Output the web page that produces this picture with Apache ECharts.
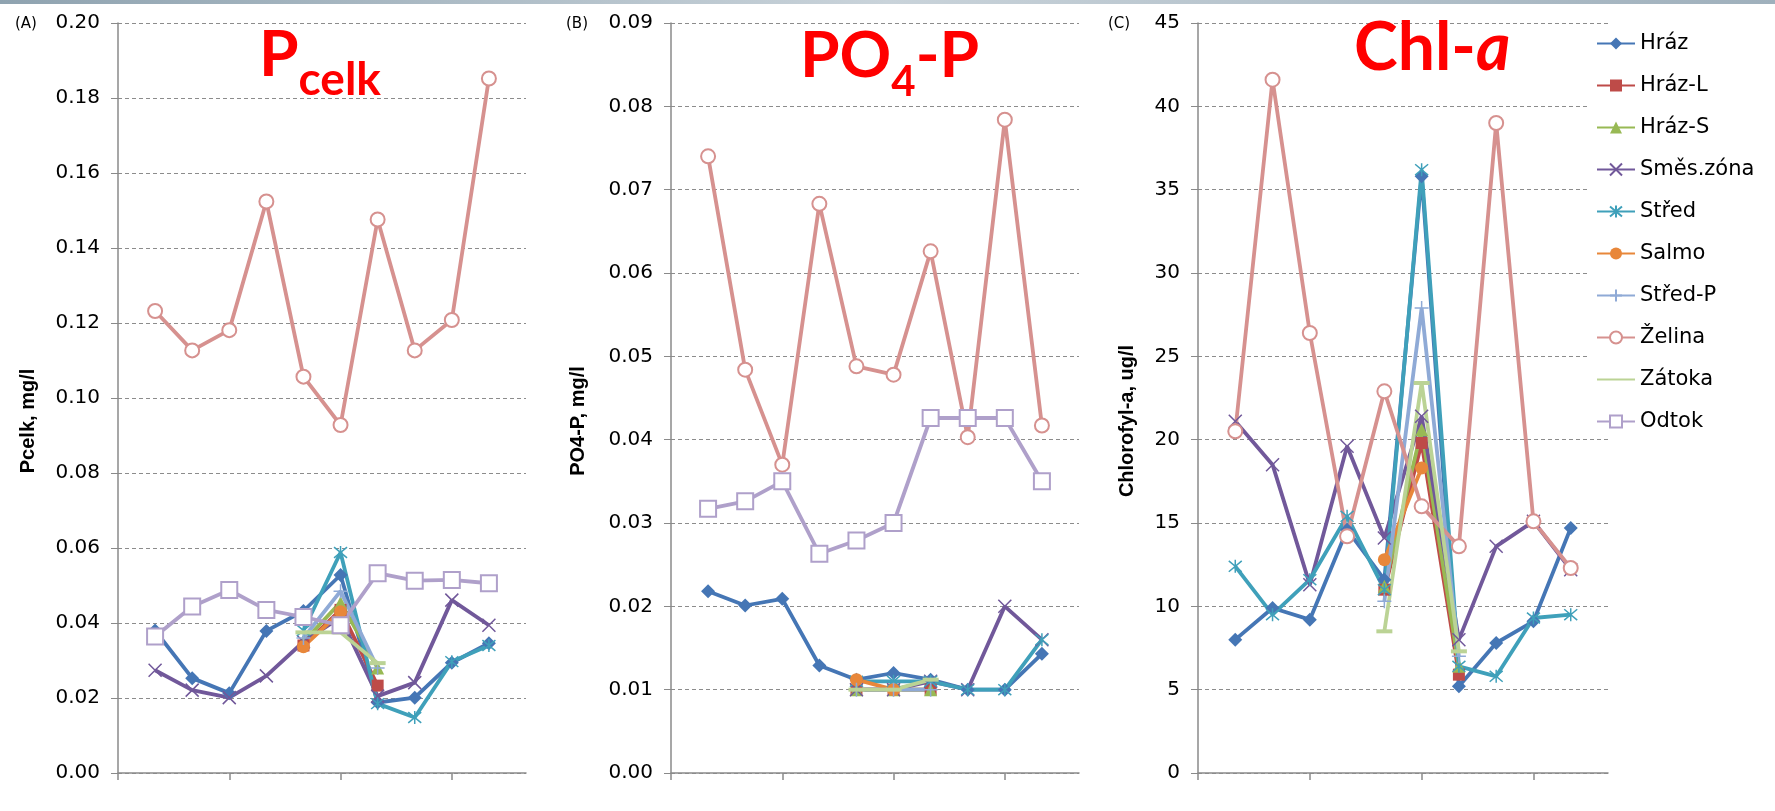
<!DOCTYPE html>
<html>
<head>
<meta charset="utf-8">
<title>Pcelk, PO4-P, Chl-a</title>
<script src="https://cdn.jsdelivr.net/npm/echarts@6.0.0/dist/echarts.min.js"></script>
<style>
html, body { margin: 0; padding: 0; background: #fff; }
#chart { width: 1775px; height: 811px; }
</style>
</head>
<body>
<div id="chart"></div>
<script>
// 12 slots on the x axis, samples sit in slots 1..10
var slots = ['', '', '', '', '', '', '', '', '', '', '', ''];
var seriesNames = ['Hráz', 'Hráz-L', 'Hráz-S', 'Směs.zóna', 'Střed', 'Salmo', 'Střed-P', 'Želina', 'Zátoka', 'Odtok'];

// (A) Pcelk, mg/l
var pHraz   = [0.0380, 0.0253, 0.0213, 0.0379, 0.0432, 0.0528, 0.0188, 0.0201, 0.0294, 0.0346];
var pHrazL  = [null, null, null, null, 0.0340, 0.0435, 0.0233, null, null, null];
var pHrazS  = [null, null, null, null, 0.0350, 0.0455, 0.0280, null, null, null];
var pSmes   = [0.0274, 0.0221, 0.0201, 0.0259, 0.0350, 0.0415, 0.0205, 0.0241, 0.0461, 0.0394];
var pStred  = [null, null, null, null, 0.0380, 0.0588, 0.0185, 0.0148, 0.0297, 0.0340];
var pSalmo  = [null, null, null, null, 0.0337, 0.0430, null, null, null, null];
var pStredP = [null, null, null, null, 0.0360, 0.0485, 0.0280, null, null, null];
var pZelina = [0.1232, 0.1127, 0.1181, 0.1524, 0.1057, 0.0928, 0.1476, 0.1127, 0.1208, 0.1852];
var pZatoka = [null, null, null, null, 0.0375, 0.0375, 0.0293, null, null, null];
var pOdtok  = [0.0364, 0.0444, 0.0488, 0.0435, 0.0416, 0.0394, 0.0533, 0.0513, 0.0515, 0.0506];

// (B) PO4-P, mg/l
var poHraz   = [0.0218, 0.0201, 0.0209, 0.0129, 0.0112, 0.0120, 0.0112, 0.0100, 0.0100, 0.0143];
var poHrazL  = [null, null, null, null, 0.0100, 0.0100, 0.0100, null, null, null];
var poHrazS  = [null, null, null, null, 0.0100, 0.0100, 0.0100, null, null, null];
var poSmes   = [null, null, null, null, 0.0100, 0.0100, 0.0110, 0.0100, 0.0200, 0.0160];
var poStred  = [null, null, null, null, 0.0110, 0.0110, 0.0110, 0.0100, 0.0100, 0.0160];
var poSalmo  = [null, null, null, null, 0.0112, 0.0100, null, null, null, null];
var poStredP = [null, null, null, null, 0.0100, 0.0100, 0.0100, null, null, null];
var poZelina = [0.0740, 0.0484, 0.0370, 0.0683, 0.0488, 0.0478, 0.0626, 0.0403, 0.0784, 0.0417];
var poZatoka = [null, null, null, null, 0.0100, 0.0100, 0.0112, null, null, null];
var poOdtok  = [0.0317, 0.0326, 0.0350, 0.0263, 0.0279, 0.0300, 0.0426, 0.0426, 0.0426, 0.0350];

// (C) Chlorofyl-a, ug/l
var chHraz   = [8.0, 9.9, 9.2, 14.6, 11.6, 35.8, 5.2, 7.8, 9.1, 14.7];
var chHrazL  = [null, null, null, null, 11.0, 19.8, 5.9, null, null, null];
var chHrazS  = [null, null, null, null, 11.2, 20.6, 6.4, null, null, null];
var chSmes   = [21.1, 18.5, 11.3, 19.6, 14.1, 21.4, 8.0, 13.6, 15.1, 12.2];
var chStred  = [12.4, 9.5, 11.6, 15.4, 11.0, 36.2, 6.4, 5.8, 9.3, 9.5];
var chSalmo  = [null, null, null, null, 12.8, 18.3, null, null, null, null];
var chStredP = [null, null, null, null, 10.3, 27.9, 7.0, null, null, null];
var chZelina = [20.5, 41.6, 26.4, 14.2, 22.9, 16.0, 13.6, 39.0, 15.1, 12.3];
var chZatoka = [null, null, null, null, 8.5, 23.4, 7.3, null, null, null];
var chOdtok  = [null, null, null, null, null, null, null, null, null, null];

var xPath = 'path://M0,0L10,10M10,0L0,10';
var starPath = 'path://M0,0L10,10M10,0L0,10M5,-1L5,11';
var plusPath = 'path://M5,0L5,10M0,5L10,5';

var looks = [
    {color: '#4576B5', symbol: 'diamond', size: 14, border: 0},
    {color: '#BE4B48', symbol: 'rect', size: 12, border: 0},
    {color: '#98B954', symbol: 'triangle', size: 13, border: 0},
    {color: '#71589A', symbol: xPath, size: 13, border: 1.5},
    {color: '#3FA0BA', symbol: starPath, size: 13, border: 1.5},
    {color: '#E8873A', symbol: 'circle', size: 13, border: 0},
    {color: '#8FAAD6', symbol: plusPath, size: 14, border: 1.5},
    {color: '#D6918F', symbol: 'emptyCircle', size: 14, border: 1.5},
    {color: '#BBD395', symbol: 'rect', size: [16, 4], border: 0},
    {color: '#AFA0CA', symbol: 'emptyRect', size: 16, border: 1.5}
];

function panelSeries(panel, lists) {
    return lists.map(function (values, i) {
        var lk = looks[i];
        return {
            name: seriesNames[i],
            type: 'line',
            xAxisIndex: panel,
            yAxisIndex: panel,
            data: [null].concat(values, [null]),
            symbol: lk.symbol,
            symbolSize: lk.size,
            showAllSymbol: true,
            connectNulls: false,
            lineStyle: {color: lk.color, width: 3.8},
            itemStyle: {color: lk.color, borderColor: lk.color, borderWidth: lk.border}
        };
    });
}

var axisGray = '#8a8a8a';
var grids = [
    {left: 118, top: 23, width: 408, height: 750},
    {left: 671, top: 23, width: 408, height: 750},
    {left: 1198, top: 23, width: 410, height: 750}
];
grids.forEach(function (g) { g.outerBoundsMode = 'none'; });

function xAxisFor(i) {
    return {
        type: 'category',
        gridIndex: i,
        data: slots,
        boundaryGap: false,
        axisLine: {show: true, lineStyle: {color: axisGray, width: 1.5}},
        axisTick: {show: true, interval: 2, length: 7, lineStyle: {color: axisGray, width: 1.5}},
        axisLabel: {show: false},
        splitLine: {show: false}
    };
}

function yAxisFor(i, max, step, digits) {
    return {
        type: 'value',
        gridIndex: i,
        min: 0,
        max: max,
        interval: step,
        axisLine: {show: true, lineStyle: {color: axisGray, width: 1.5}},
        axisTick: {show: true, length: 7, lineStyle: {color: axisGray}},
        axisLabel: {
            margin: 18,
            color: '#000',
            fontFamily: 'DejaVu Sans',
            fontSize: 20,
            formatter: function (v) { return v.toFixed(digits); }
        },
        splitLine: {show: true, lineStyle: {color: '#8c8c8c', width: 1, type: [4, 3]}}
    };
}

var redTitle = {fontFamily: 'Lato', fontWeight: 'bold', color: '#FF0000'};
function rt(extra) { return Object.assign({}, redTitle, extra); }

function axisTitle(x, text) {
    return {
        type: 'text', x: x, y: 421, rotation: Math.PI / 2,
        style: {
            text: text, fill: '#000',
            font: 'bold 20px "Liberation Sans"',
            align: 'center', verticalAlign: 'middle',
            textAlign: 'center', textVerticalAlign: 'middle'
        }
    };
}

function panelTag(x, text) {
    return {
        type: 'text', x: x, y: 24,
        style: {
            text: text, fill: '#000',
            font: '15px "DejaVu Sans"',
            align: 'left', verticalAlign: 'middle',
            textAlign: 'left', textVerticalAlign: 'middle'
        }
    };
}

var chart = echarts.init(document.getElementById('chart'));
chart.setOption({
    animation: false,
    backgroundColor: '#fff',
    title: [
        {
            left: 259, top: 23, padding: 0,
            text: '{a|P}{b|celk}',
            textStyle: {rich: {
                a: rt({fontSize: 64, verticalAlign: 'top'}),
                b: rt({fontSize: 46, verticalAlign: 'top', padding: [34, 0, 0, 0]})
            }}
        },
        {
            left: 800, top: 24, padding: 0,
            text: '{a|PO}{b|4}{a|-P}',
            textStyle: {rich: {
                a: rt({fontSize: 64, verticalAlign: 'top'}),
                b: rt({fontSize: 42, verticalAlign: 'top', padding: [37, 0, 0, 0]})
            }}
        },
        {
            left: 1354, top: 16, padding: 0,
            text: '{a|Chl-}{i|a}',
            textStyle: {rich: {
                a: rt({fontSize: 66, verticalAlign: 'top'}),
                i: rt({fontSize: 66, verticalAlign: 'top', fontStyle: 'italic'})
            }}
        }
    ],
    legend: {
        orient: 'vertical',
        left: 1588,
        top: 28,
        padding: [5, 8, 5, 8],
        backgroundColor: '#fff',
        itemWidth: 38,
        itemHeight: 15,
        itemGap: 21,
        textStyle: {color: '#000', fontFamily: 'DejaVu Sans', fontSize: 21},
        data: seriesNames.map(function (n) {
            return n === 'Zátoka' ? {name: n, itemStyle: {opacity: 0}} : {name: n};
        })
    },
    grid: grids,
    xAxis: [xAxisFor(0), xAxisFor(1), xAxisFor(2)],
    yAxis: [yAxisFor(0, 0.20, 0.02, 2), yAxisFor(1, 0.09, 0.01, 2), yAxisFor(2, 45, 5, 0)],
    graphic: [
        {
            type: 'rect', shape: {x: 0, y: 0, width: 1775, height: 4},
            style: {fill: new echarts.graphic.LinearGradient(0, 0, 1, 0, [
                {offset: 0, color: '#8fa3b0'}, {offset: 0.5, color: '#c9d3da'}, {offset: 1, color: '#9fb0bc'}
            ])}
        },
        panelTag(15, '(A)'),
        panelTag(566, '(B)'),
        panelTag(1108, '(C)'),
        axisTitle(28, 'Pcelk, mg/l'),
        axisTitle(578, 'PO4-P, mg/l'),
        axisTitle(1127, 'Chlorofyl-a, ug/l')
    ],
    series: [].concat(
        panelSeries(0, [pHraz, pHrazL, pHrazS, pSmes, pStred, pSalmo, pStredP, pZelina, pZatoka, pOdtok]),
        panelSeries(1, [poHraz, poHrazL, poHrazS, poSmes, poStred, poSalmo, poStredP, poZelina, poZatoka, poOdtok]),
        panelSeries(2, [chHraz, chHrazL, chHrazS, chSmes, chStred, chSalmo, chStredP, chZelina, chZatoka, chOdtok])
    )
});
</script>
</body>
</html>
